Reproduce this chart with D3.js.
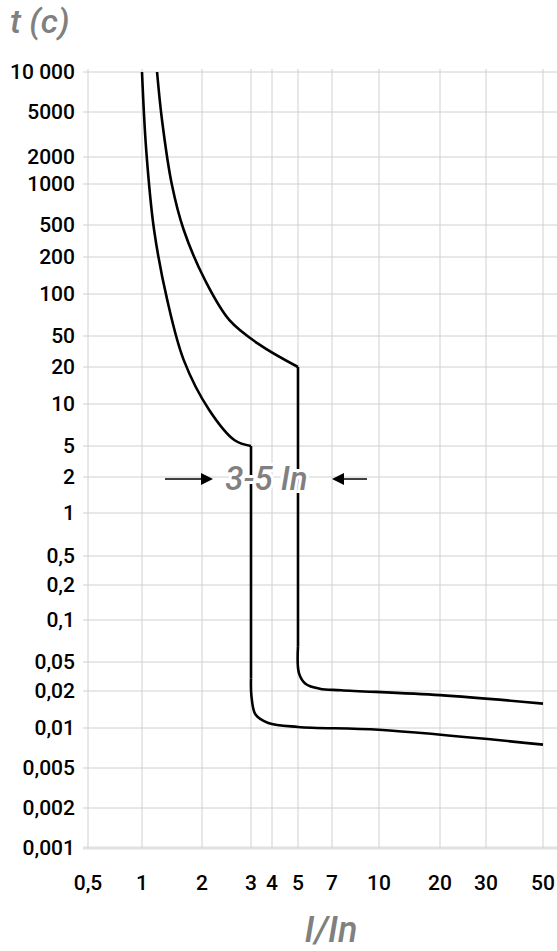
<!DOCTYPE html>
<html><head><meta charset="utf-8">
<script src="https://cdn.jsdelivr.net/npm/d3@7"></script>
<style>body{margin:0;background:#fff}svg{display:block}text{font-family:Roboto,sans-serif}</style>
</head><body><div id="content"></div>
<script>
// tick values and labels
var xTicks = [0.5, 1, 2, 3, 4, 5, 7, 10, 20, 30, 50];
var xLabels = ['0,5', '1', '2', '3', '4', '5', '7', '10', '20', '30', '50'];
var yTicks = [10000, 5000, 2000, 1000, 500, 200, 100, 50, 20, 10, 5, 2, 1, 0.5, 0.2, 0.1, 0.05, 0.02, 0.01, 0.005, 0.002, 0.001];
var yLabels = ['10 000', '5000', '2000', '1000', '500', '200', '100', '50', '20', '10', '5', '2', '1', '0,5', '0,2', '0,1', '0,05', '0,02', '0,01', '0,005', '0,002', '0,001'];

// lower curve (trip at 3 In)
var lowTop = [[1.0, 10000], [1.05, 2300], [1.15, 433], [1.34, 90], [1.62, 24.5], [2.12, 9.1], [2.62, 5.5], [3, 5]];
var lowBottom = [[3, 0.03], [3.02, 0.018], [3.2, 0.0128], [3.8, 0.011], [5, 0.0102], [10, 0.0097], [50, 0.0075]];
// upper curve (trip at 5 In)
var upTop = [[1.19, 10000], [1.26, 4250], [1.41, 1000], [1.62, 433], [2.05, 130], [2.51, 65], [3.39, 38.4], [5, 20]];
var upBottom = [[5, 0.065], [5.05, 0.035], [5.4, 0.025], [6.2, 0.0215], [7.5, 0.0205], [20, 0.0185], [50, 0.0158]];

var width = 557, height = 951;
// piecewise scales calibrated to the printed grid
var x = d3.scaleLog().domain(xTicks).range([88, 142, 202, 251, 272, 298, 332, 379, 440, 486, 543]);
var y = d3.scaleLog().domain(yTicks).range([72, 112, 157, 184, 225, 257, 294, 336, 367, 404, 446, 477, 513, 556, 585, 620, 662, 691, 728, 768, 808, 848]);

var svg = d3.select('#content').append('svg').attr('width', width).attr('height', height);

// grid
svg.append('g').selectAll('line').data(yTicks).enter().append('line')
  .attr('x1', 83).attr('x2', 557)
  .attr('y1', d => y(d)).attr('y2', d => y(d))
  .attr('stroke', d => d === 0.001 ? '#e2e2e2' : '#d0d0d0')
  .attr('stroke-width', d => d === 0.001 ? 3 : 1);
svg.append('g').selectAll('line').data(xTicks).enter().append('line')
  .attr('x1', d => x(d)).attr('x2', d => x(d))
  .attr('y1', 69).attr('y2', 848)
  .attr('stroke', '#d0d0d0').attr('stroke-width', 1);

// tick labels
svg.append('g').selectAll('text').data(yTicks).enter().append('text')
  .attr('x', 75).attr('y', d => y(d) + 7)
  .attr('text-anchor', 'end').attr('font-size', 21).attr('font-weight', 500)
  .text((d, i) => yLabels[i]);
svg.append('g').selectAll('text').data(xTicks).enter().append('text')
  .attr('x', d => x(d)).attr('y', 890)
  .attr('text-anchor', 'middle').attr('font-size', 21).attr('font-weight', 500)
  .text((d, i) => xLabels[i]);

// axis titles
svg.append('text').attr('x', 10).attr('y', 33).attr('font-size', 34).attr('font-style', 'italic')
  .attr('font-weight', 500).attr('fill', '#808080').text('t (c)');
svg.append('text').attr('x', 331).attr('y', 942).attr('text-anchor', 'middle').attr('font-size', 36)
  .attr('font-style', 'italic').attr('font-weight', 500).attr('fill', '#808080').text('I/In');

// curves (smoothed in pixel space)
var line = d3.line().x(d => x(d[0])).y(d => y(d[1])).curve(d3.curveCatmullRom.alpha(0.5));
var straight = d3.line().x(d => x(d[0])).y(d => y(d[1]));
function curve(top, bottom) {
  var g = svg.append('g').attr('fill', 'none').attr('stroke', '#000').attr('stroke-width', 2.6);
  g.append('path').attr('d', line(top));
  g.append('path').attr('d', straight([top[top.length - 1], bottom[0]]));
  g.append('path').attr('d', line(bottom));
}
curve(lowTop, lowBottom);
curve(upTop, upBottom);

// 3-5 In annotation
var ay = y(2) + 2;
var ann = svg.append('g');
ann.append('line').attr('x1', 165).attr('x2', x(3) - 48).attr('y1', ay).attr('y2', ay).attr('stroke', '#000').attr('stroke-width', 1.5);
ann.append('path').attr('d', `M${x(3) - 38},${ay} l-12,-6 v12 z`);
ann.append('line').attr('x1', x(5) + 46).attr('x2', 367).attr('y1', ay).attr('y2', ay).attr('stroke', '#000').attr('stroke-width', 1.5);
ann.append('path').attr('d', `M${x(5) + 34},${ay} l12,-6 v12 z`);
ann.append('text').attr('x', (x(3) + x(5)) / 2 - 8).attr('y', ay + 11).attr('text-anchor', 'middle')
  .attr('font-size', 33).attr('font-style', 'italic').attr('font-weight', 500).attr('fill', '#808080')
  .style('paint-order', 'stroke').attr('stroke', '#fff').attr('stroke-width', 6)
  .text('3-5 In');
</script></body></html>
